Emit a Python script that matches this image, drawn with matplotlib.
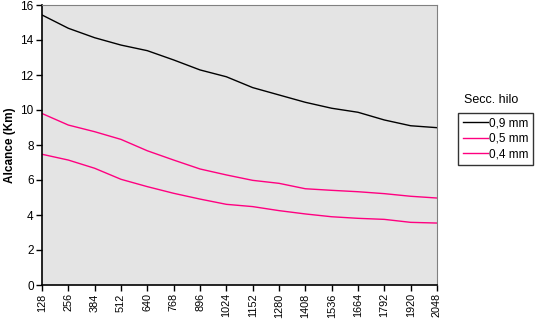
import numpy as np
import matplotlib
matplotlib.use("Agg")
import matplotlib.pyplot as plt

plt.rcParams['font.family'] = ['Liberation Sans', 'DejaVu Sans']

# longitud / categorias del eje x
categorias = [128, 256, 384, 512, 640, 768, 896, 1024, 1152, 1280,
              1408, 1536, 1664, 1792, 1920, 2048]

# alcance (Km) por seccion de hilo
hilo_09 = [15.43, 14.67, 14.13, 13.71, 13.39, 12.86, 12.29, 11.9,
           11.28, 10.86, 10.44, 10.1, 9.87, 9.43, 9.1, 8.99]
hilo_05 = [9.8, 9.14, 8.76, 8.32, 7.67, 7.14, 6.63, 6.29,
           5.98, 5.81, 5.5, 5.41, 5.33, 5.22, 5.07, 4.97]
hilo_04 = [7.47, 7.14, 6.67, 6.04, 5.62, 5.24, 4.91, 4.61,
           4.48, 4.25, 4.06, 3.9, 3.81, 3.75, 3.58, 3.54]

etiquetas = ['0,9 mm', '0,5 mm', '0,4 mm']
colores = ['black', '#ff0080', '#ff0080']

W, H = 535, 322
fig = plt.figure(figsize=(W / 100, H / 100), dpi=100)
ax = fig.add_axes([42 / W, (H - 285) / H, (437 - 42) / W, 280 / H])
ax.set_facecolor('#e4e4e4')

x = np.arange(len(categorias))
for serie, lab, col in zip([hilo_09, hilo_05, hilo_04], etiquetas, colores):
    ax.plot(x, serie, color=col, lw=1.0, label=lab)

ax.set_xlim(0, len(categorias) - 1)
ax.set_ylim(0, 16)
ax.set_xticks(x)
ax.set_xticklabels([str(c) for c in categorias], rotation=90, fontsize=7.8)
ax.set_yticks(range(0, 17, 2))
ax.set_yticklabels([str(v) for v in range(0, 17, 2)], fontsize=8.5)
ax.tick_params(direction='out', length=4, width=1, color='black', pad=2)

for s in ['top', 'right']:
    ax.spines[s].set_color('#808080')
for s in ['left', 'bottom']:
    ax.spines[s].set_color('black')
    ax.spines[s].set_linewidth(1.2)

ax.set_ylabel('Alcance (Km)', fontsize=8.5, fontweight='bold', labelpad=3)

fig.text(491 / W, 1 - 100 / H, 'Secc. hilo', fontsize=9, ha='center', va='center')
leg = fig.legend(loc='upper left', bbox_to_anchor=(458 / W, 1 - 112.5 / H),
                 fontsize=8.5, frameon=True, fancybox=False, borderpad=0.4,
                 handlelength=2.1, handletextpad=0.1, labelspacing=0.3,
                 borderaxespad=0)
leg.get_frame().set_edgecolor('black')
leg.get_frame().set_linewidth(1.0)

fig.savefig('out.png', dpi=100)
